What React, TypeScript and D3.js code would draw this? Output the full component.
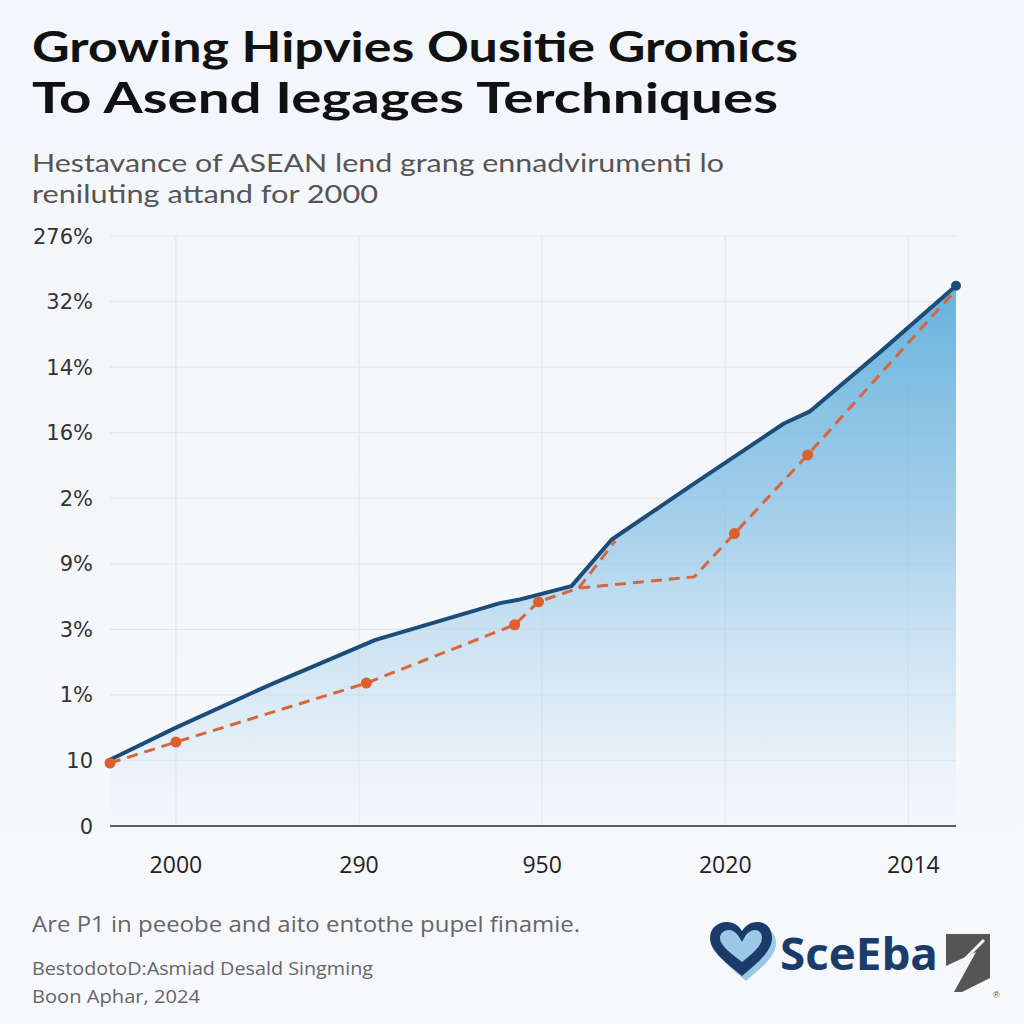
import React from "react";
import * as d3 from "d3";

const yTickLabels = ["0", "10", "1%", "3%", "9%", "2%", "16%", "14%", "32%", "276%"];
const xTickLabels = ["2000", "290", "950", "2020", "2014"];

// x in tick-index units, y in gridline units
const blueX = [-0.36, 0, 0.51, 1.09, 1.77, 1.87, 2.16, 2.38, 2.86, 3.32, 3.46, 3.85, 4.26];
const blueY = [1.01, 1.5, 2.15, 2.84, 3.4, 3.45, 3.66, 4.37, 5.28, 6.14, 6.32, 7.24, 8.24];

const orangeX = [-0.36, 0, 1.04, 1.85, 1.98, 2.2, 2.83, 3.05, 3.45, 4.26];
const orangeY = [0.96, 1.28, 2.18, 3.07, 3.42, 3.63, 3.8, 4.46, 5.66, 8.18];
const orangeDot = [true, true, true, true, true, false, false, true, true, false];

// a stray dashed segment following the blue line
const strayX = [2.2, 2.4];
const strayY = [3.63, 4.35];

const W = 1024;
const H = 1024;

export default function App() {
  const x = d3.scaleLinear().domain([-0.36, 4.26]).range([110, 956]);
  const y = d3.scaleLinear().domain([0, 9]).range([826, 236]);

  const blue = blueX.map((v, i) => [v, blueY[i]] as [number, number]);
  const orange = orangeX.map((v, i) => [v, orangeY[i]] as [number, number]);
  const stray = strayX.map((v, i) => [v, strayY[i]] as [number, number]);

  const line = d3
    .line<[number, number]>()
    .x((d) => x(d[0]))
    .y((d) => y(d[1]));
  const area = d3
    .area<[number, number]>()
    .x((d) => x(d[0]))
    .y0(y(0))
    .y1((d) => y(d[1]));

  const last = blue[blue.length - 1];

  return (
    <svg
      width={W}
      height={H}
      viewBox={`0 0 ${W} ${H}`}
      style={{ position: "absolute", left: 0, top: 0, display: "block" }}
    >
      <defs>
        <linearGradient id="areaGrad" gradientUnits="userSpaceOnUse" x1="0" y1={y(8.3)} x2="0" y2={y(0)}>
          <stop offset="0" stopColor="#5eaedb" stopOpacity="0.95" />
          <stop offset="0.45" stopColor="#8cc3e6" stopOpacity="0.75" />
          <stop offset="0.85" stopColor="#cfe4f3" stopOpacity="0.45" />
          <stop offset="1" stopColor="#eef5fb" stopOpacity="0.2" />
        </linearGradient>
        <linearGradient id="bgGrad" x1="0" y1="0" x2="0" y2="1">
          <stop offset="0" stopColor="#f3f6fa" />
          <stop offset="1" stopColor="#f6f8fb" />
        </linearGradient>
      </defs>
      <rect x={0} y={0} width={W} height={H} fill="url(#bgGrad)" />

      {/* Title */}
      <g fontFamily="Lato, 'Open Sans', sans-serif" fontWeight="700" fill="#111">
        <text x={32} y={62} fontSize={42} textLength={766} lengthAdjust="spacingAndGlyphs">
          Growing Hipvies Ousitie Gromics
        </text>
        <text x={32} y={113} fontSize={42} textLength={746} lengthAdjust="spacingAndGlyphs">
          To Asend Iegages Terchniques
        </text>
      </g>

      {/* Subtitle */}
      <g fontFamily="Lato, 'Open Sans', sans-serif" fill="#555">
        <text x={32} y={172} fontSize={25} textLength={692} lengthAdjust="spacingAndGlyphs">
          Hestavance of ASEAN lend grang ennadvirumenti lo
        </text>
        <text x={32} y={203} fontSize={25} textLength={346} lengthAdjust="spacingAndGlyphs">
          reniluting attand for 2000
        </text>
      </g>

      {/* Grid */}
      <g stroke="#e2e6eb" strokeWidth={1.2}>
        {yTickLabels.map((_, i) =>
          i === 0 ? null : <line key={"h" + i} x1={110} x2={956} y1={y(i)} y2={y(i)} />
        )}
        {xTickLabels.map((_, i) => (
          <line key={"v" + i} x1={x(i)} x2={x(i)} y1={y(9)} y2={y(0)} />
        ))}
      </g>

      {/* Area */}
      <path d={area(blue) || ""} fill="url(#areaGrad)" />

      {/* Baseline */}
      <line x1={110} x2={956} y1={y(0)} y2={y(0)} stroke="#2b2b2b" strokeWidth={1.5} />

      {/* Y labels */}
      <g fontFamily="'DejaVu Sans', 'Noto Sans', sans-serif" fontSize={21} fill="#333" textAnchor="end">
        {yTickLabels.map((t, i) => (
          <text key={t + i} x={93} y={y(i)} dy="0.36em">
            {t}
          </text>
        ))}
      </g>

      {/* X labels */}
      <g fontFamily="'Open Sans', 'Noto Sans', sans-serif" fontSize={23} fill="#222" textAnchor="middle">
        {xTickLabels.map((t, i) => (
          <text key={t + i} x={x(i) + (i === 4 ? 5 : 0)} y={873}>
            {t}
          </text>
        ))}
      </g>

      {/* Orange dashed series */}
      <path d={line(orange) || ""} fill="none" stroke="#d8663c" strokeWidth={3} strokeDasharray="11 7" />
      <path d={line(stray) || ""} fill="none" stroke="#d8663c" strokeWidth={3} strokeDasharray="11 7" />

      {/* Blue series */}
      <path d={line(blue) || ""} fill="none" stroke="#1c4c78" strokeWidth={4} strokeLinejoin="round" />
      <circle cx={x(last[0])} cy={y(last[1])} r={5} fill="#1c4c78" />

      {orange.map((d, i) =>
        orangeDot[i] ? <circle key={"o" + i} cx={x(d[0])} cy={y(d[1])} r={5.5} fill="#dc5f2e" /> : null
      )}

      {/* Footer */}
      <g fontFamily="'Open Sans', 'Noto Sans', sans-serif" fill="#666">
        <text x={32} y={932} fontSize={22} textLength={548} lengthAdjust="spacingAndGlyphs">
          Are P1 in peeobe and aito entothe pupel finamie.
        </text>
        <text x={32} y={975} fontSize={19} textLength={341} lengthAdjust="spacingAndGlyphs">
          BestodotoD:Asmiad Desald Singming
        </text>
        <text x={32} y={1003} fontSize={19} textLength={168} lengthAdjust="spacingAndGlyphs">
          Boon Aphar, 2024
        </text>
      </g>

      {/* Logo */}
      <g>
        <path
          d="M742,978 C728,966 712,954 712,940 C712,930 720,925 728,925 C735,925 740,929 742,934 C744,929 749,925 756,925 C764,925 772,930 772,940 C772,954 756,966 742,978 Z"
          fill="#9cc8e8"
          transform="translate(4,3)"
        />
        <path
          d="M742,976 C728,964 710,952 710,938 C710,928 718,922 727,922 C734,922 739,926 742,931 C745,926 750,922 757,922 C766,922 772,928 772,938 C772,952 756,964 742,976 Z M742,962 C752,954 762,946 762,938 C762,933 759,930 755,930 C750,930 746,934 742,942 C738,934 734,930 729,930 C724,930 720,933 720,938 C720,946 732,954 742,962 Z"
          fill="#1b3c6b"
          fillRule="evenodd"
        />
        <text
          x={780}
          y={970}
          fontFamily="'Open Sans', 'Noto Sans', sans-serif"
          fontWeight="700"
          fontSize={44}
          fill="#1b3c6b"
          textLength={158}
          lengthAdjust="spacingAndGlyphs"
        >
          SceEba
        </text>
        <path d="M946,934 L990,934 L990,978 L962,992 L954,992 L976,952 L946,966 Z" fill="#555" />
        <path d="M950,974 L984,940" stroke="#f3f6fa" strokeWidth={3} />
        <text x={993} y={998} fontSize={9} fill="#555" fontFamily="sans-serif">®</text>
      </g>
    </svg>
  );
}
